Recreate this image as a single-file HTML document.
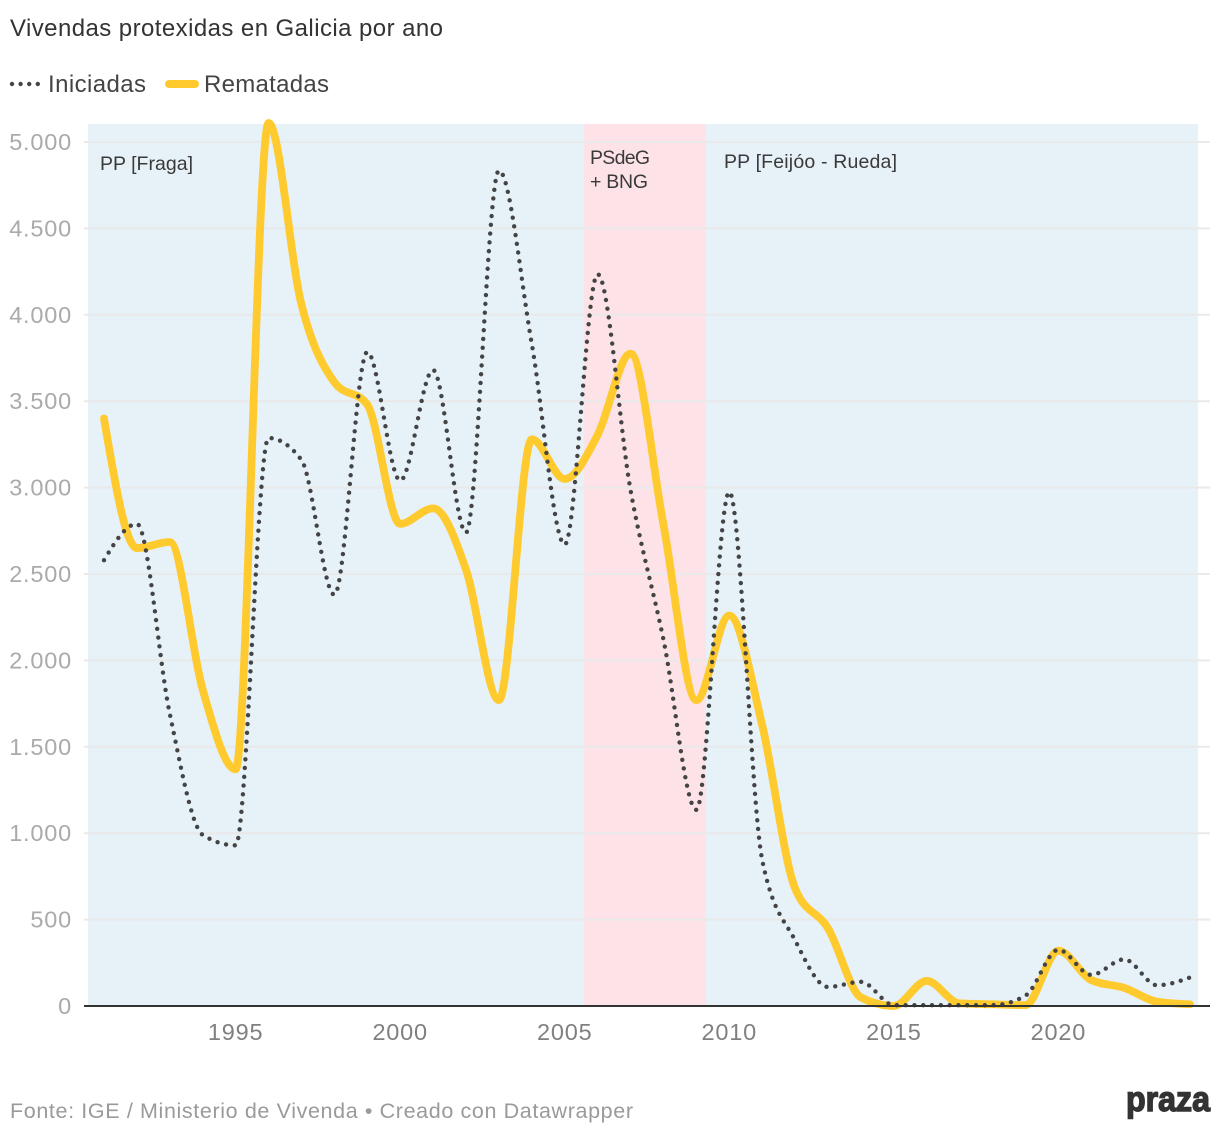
<!DOCTYPE html>
<html lang="gl">
<head>
<meta charset="utf-8">
<title>Vivendas protexidas en Galicia por ano</title>
<style>
html,body{margin:0;padding:0;background:#fff;}
svg{display:block;font-family:"Liberation Sans",sans-serif;}
</style>
</head>
<body>
<svg id="chart" xmlns="http://www.w3.org/2000/svg" width="1220" height="1134" viewBox="0 0 1220 1134">
  <text x="10" y="36" font-size="24" fill="#333" textLength="433" lengthAdjust="spacing">Vivendas protexidas en Galicia por ano</text>
  <g>
    <line x1="12" y1="84" x2="42" y2="84" stroke="#444" stroke-width="4.4" stroke-linecap="round" stroke-dasharray="0 8.6"/>
    <text x="48" y="92" font-size="24" fill="#444" textLength="98" lengthAdjust="spacing">Iniciadas</text>
    <line x1="169" y1="84" x2="195" y2="84" stroke="#ffca2e" stroke-width="8" stroke-linecap="round"/>
    <text x="204" y="92" font-size="24" fill="#444" textLength="125" lengthAdjust="spacing">Rematadas</text>
  </g>
  <g>
    <rect x="88" y="124" width="496" height="882" fill="#e6f1f8"/>
    <rect x="584" y="124" width="122" height="882" fill="#fde3e8"/>
    <rect x="706" y="124" width="492" height="882" fill="#e6f1f8"/>
  </g>
  <g id="grid"></g>
  <g id="yticks"></g>
  <g id="xticks"></g>
  <g font-size="19.5" fill="#3a3a3a">
    <text x="100" y="170" textLength="93" lengthAdjust="spacing">PP [Fraga]</text>
    <text x="590" y="164" textLength="60" lengthAdjust="spacing">PSdeG</text>
    <text x="590" y="188" textLength="58" lengthAdjust="spacing">+ BNG</text>
    <text x="724" y="168" textLength="173" lengthAdjust="spacing">PP [Feijóo - Rueda]</text>
  </g>
  <g id="series"></g>
  <line x1="84" y1="1006" x2="1210" y2="1006" stroke="#333" stroke-width="2"/>
  <text x="10" y="1118" font-size="21.5" fill="#9a9a9a" textLength="623" lengthAdjust="spacing">Fonte: IGE / Ministerio de Vivenda • Creado con Datawrapper</text>
  <text x="1126" y="1111" font-size="35" font-weight="700" fill="#333" stroke="#333" stroke-width="1.4" textLength="84" lengthAdjust="spacingAndGlyphs">praza</text>
</svg>
<script>
const years = [1991,1992,1993,1994,1995,1996,1997,1998,1999,2000,2001,2002,2003,2004,2005,2006,2007,2008,2009,2010,2011,2012,2013,2014,2015,2016,2017,2018,2019,2020,2021,2022,2023,2024];
const iniciadas = [2580,2790,1690,990,930,3287,3160,2380,3785,3040,3680,2740,4835,3830,2670,4235,2985,2120,1135,2975,845,380,110,140,5,5,5,5,60,325,180,270,120,165];
const rematadas = [3400,2650,2685,1830,1370,5110,4060,3610,3480,2790,2880,2525,1770,3280,3050,3305,3775,2785,1770,2260,1625,680,450,50,0,145,15,10,5,320,150,105,25,10];
const yTickValues = [0,500,1000,1500,2000,2500,3000,3500,4000,4500,5000];
const yTickLabels = ["0","500","1.000","1.500","2.000","2.500","3.000","3.500","4.000","4.500","5.000"];
const xTickYears = [1995,2000,2005,2010,2015,2020];

const NS = 'http://www.w3.org/2000/svg';
function xScale(year){ return 104 + (year - 1991) * 32.91; }
function yScale(value){ return 1006 - value * 0.1728; }

function sign(v){ return v < 0 ? -1 : 1; }
function monotonePath(xs, ys){
  const n = xs.length;
  const slopes = [];
  for (let i = 0; i < n - 1; i++) slopes.push((ys[i+1] - ys[i]) / (xs[i+1] - xs[i]));
  const tangents = [slopes[0]];
  for (let i = 1; i < n - 1; i++) {
    const h0 = xs[i] - xs[i-1], h1 = xs[i+1] - xs[i];
    const p = (slopes[i-1] * h1 + slopes[i] * h0) / (h0 + h1);
    tangents.push((sign(slopes[i-1]) + sign(slopes[i])) * Math.min(Math.abs(slopes[i-1]), Math.abs(slopes[i]), 0.5 * Math.abs(p)) || 0);
  }
  tangents.push(slopes[n-2]);
  tangents[0] = (3 * slopes[0] - tangents[1]) / 2;
  tangents[n-1] = (3 * slopes[n-2] - tangents[n-2]) / 2;
  let d = 'M' + xs[0].toFixed(2) + ',' + ys[0].toFixed(2);
  for (let i = 0; i < n - 1; i++) {
    const h = (xs[i+1] - xs[i]) / 3;
    d += 'C' + (xs[i] + h).toFixed(2) + ',' + (ys[i] + h * tangents[i]).toFixed(2) + ' ' +
         (xs[i+1] - h).toFixed(2) + ',' + (ys[i+1] - h * tangents[i+1]).toFixed(2) + ' ' +
         xs[i+1].toFixed(2) + ',' + ys[i+1].toFixed(2);
  }
  return d;
}

const grid = document.getElementById('grid');
const yAxis = document.getElementById('yticks');
const xAxis = document.getElementById('xticks');
const seriesGroup = document.getElementById('series');

yTickValues.forEach(function(v, i){
  if (v !== 0) {
    const l = document.createElementNS(NS, 'line');
    
    
    l.setAttribute('x1', 84);
    l.setAttribute('x2', 1210);
    l.setAttribute('y1', yScale(v));
    l.setAttribute('y2', yScale(v));
    l.setAttribute('stroke', '#e9e9e9');
    l.setAttribute('stroke-width', 2);
    grid.appendChild(l);
  }
  const t = document.createElementNS(NS, 'text');
  
  
  t.setAttribute('x', 72);
  t.setAttribute('y', yScale(v) + 8);
  t.setAttribute('text-anchor', 'end');
  t.setAttribute('font-size', 23.5);
  t.setAttribute('letter-spacing', 0.8);
  t.setAttribute('fill', '#aaaaaa');
  t.textContent = yTickLabels[i];
  yAxis.appendChild(t);
});

xTickYears.forEach(function(year){
  const t = document.createElementNS(NS, 'text');
  
  
  t.setAttribute('x', xScale(year));
  t.setAttribute('y', 1040);
  t.setAttribute('text-anchor', 'middle');
  t.setAttribute('font-size', 23.5);
  t.setAttribute('letter-spacing', 0.8);
  t.setAttribute('fill', '#808080');
  t.textContent = String(year);
  xAxis.appendChild(t);
});

const xPositions = years.map(xScale);

const remPath = document.createElementNS(NS, 'path');


remPath.setAttribute('d', monotonePath(xPositions, rematadas.map(yScale)));
remPath.setAttribute('fill', 'none');
remPath.setAttribute('stroke', '#ffca2e');
remPath.setAttribute('stroke-width', 7.8);
remPath.setAttribute('stroke-linecap', 'round');
remPath.setAttribute('stroke-linejoin', 'round');
seriesGroup.appendChild(remPath);

const iniPath = document.createElementNS(NS, 'path');


iniPath.setAttribute('d', monotonePath(xPositions, iniciadas.map(yScale)));
iniPath.setAttribute('fill', 'none');
iniPath.setAttribute('stroke', '#444');
iniPath.setAttribute('stroke-width', 4.4);
iniPath.setAttribute('stroke-linecap', 'round');
iniPath.setAttribute('stroke-dasharray', '0 8.8');
seriesGroup.appendChild(iniPath);
</script>
</body>
</html>
